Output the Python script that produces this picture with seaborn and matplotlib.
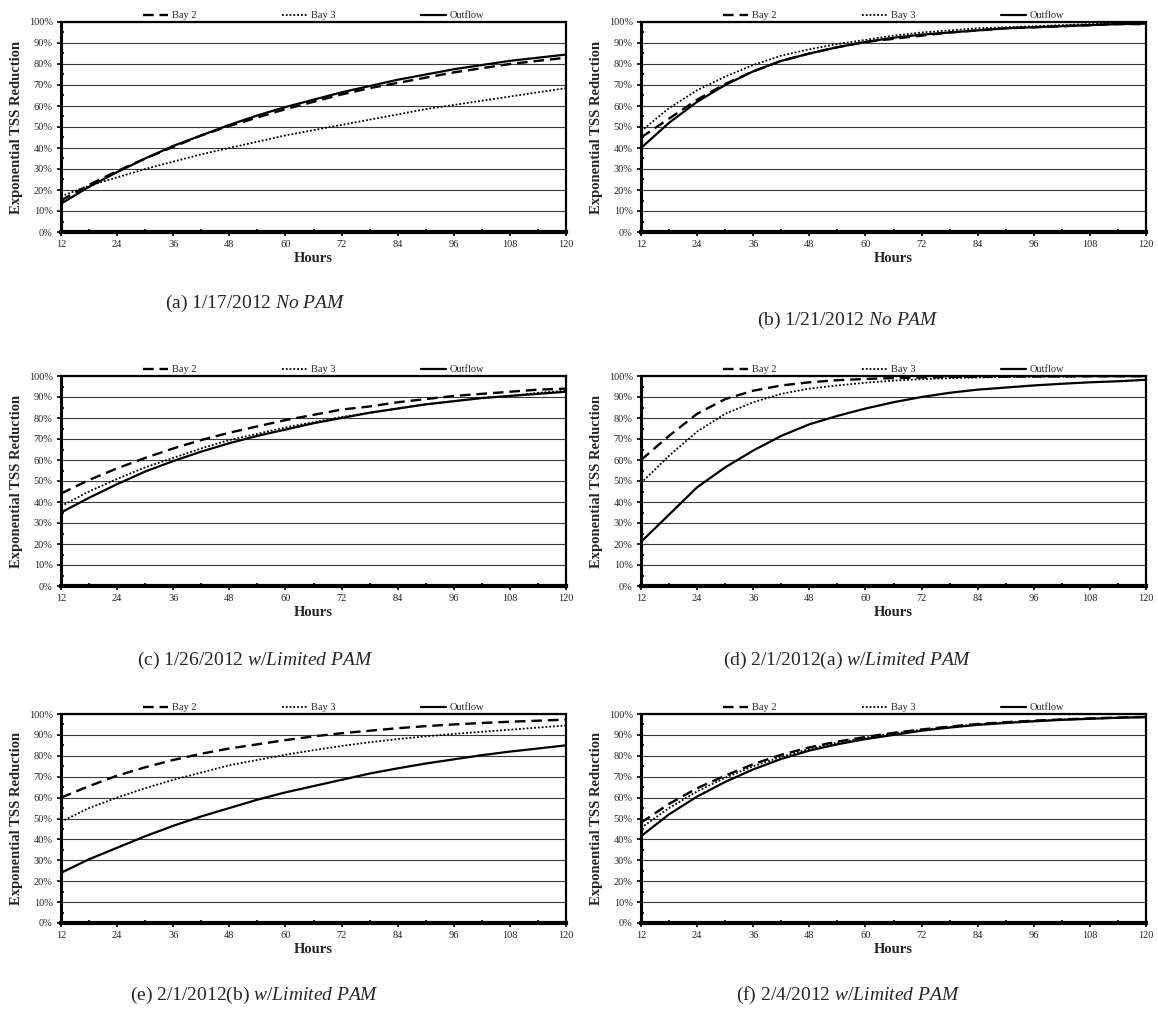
import numpy as np
import pandas as pd
import matplotlib
matplotlib.use("Agg")
import matplotlib.pyplot as plt
from matplotlib.lines import Line2D
from matplotlib.ticker import MultipleLocator, FuncFormatter
import seaborn as sns

sns.set_theme(style="white")
plt.rcParams["font.family"] = ["Liberation Serif", "DejaVu Serif"]
plt.rcParams["mathtext.fontset"] = "custom"
plt.rcParams["mathtext.rm"] = "Liberation Serif"
plt.rcParams["mathtext.it"] = "Liberation Serif:italic"

hours = [12, 18, 24, 30, 36, 42, 48, 54, 60, 66, 72, 78, 84, 90, 96, 102, 108, 114, 120]

# (a) 1/17/2012, no PAM
a_bay2 = [15, 22.5, 29, 35, 40.5, 46, 50.5, 54.5, 58.5, 62, 65.5, 68.5, 71, 73.5, 76, 78, 80, 81.5, 83]
a_bay3 = [17, 22, 26, 30, 33.5, 37, 40, 43, 46, 48.5, 51, 53.5, 56, 58.5, 60.5, 62.5, 64.5, 66.5, 68.5]
a_out = [13.5, 21.5, 28.5, 35, 41, 46, 51, 55.5, 59.5, 63, 66.5, 69.5, 72.5, 75, 77.5, 79.5, 81.5, 83, 84.5]

# (b) 1/21/2012, no PAM
b_bay2 = [45, 54, 63, 70.5, 76.5, 81.5, 85, 88, 90.5, 92, 93.5, 95, 96, 97, 97.5, 98, 98.5, 99, 99]
b_bay3 = [48, 59, 67.5, 74, 79.5, 84, 87, 89.5, 91.5, 93.5, 95, 96, 97, 97.5, 98, 98.5, 99, 99.2, 99.4]
b_out = [40, 52, 62, 70, 76.5, 81.5, 85, 88, 90.5, 92.5, 94, 95, 96, 97, 97.5, 98, 98.5, 99, 99.2]

# (c) 1/26/2012, limited PAM
c_bay2 = [44, 50.5, 56, 61, 65.5, 69.5, 73, 76, 79, 81.5, 84, 85.5, 87.5, 89, 90.5, 91.5, 92.5, 93.5, 94]
c_bay3 = [38, 45, 51, 56.5, 61, 65.5, 69.5, 72.5, 75.5, 78, 80.5, 82.5, 84.5, 86.5, 88, 89.5, 90.5, 92, 93]
c_out = [35, 42, 48.5, 54.5, 59.5, 64, 68, 71.5, 74.5, 77.5, 80, 82.5, 84.5, 86.5, 88, 89.5, 90.5, 91.5, 92.5]

# (d) 2/1/2012(a), limited PAM
d_bay2 = [60, 71.5, 82, 89, 93, 95.5, 97, 98, 98.6, 99, 99.3, 99.5, 99.6, 99.7, 99.8, 99.8, 99.9, 99.9, 99.9]
d_bay3 = [49, 62, 73.5, 82, 87.5, 91.5, 94, 95.5, 96.8, 97.8, 98.5, 99, 99.3, 99.5, 99.6, 99.7, 99.8, 99.8, 99.9]
d_out = [21, 34, 47, 56.5, 64.5, 71.5, 77, 81, 84.5, 87.5, 90, 92, 93.5, 94.5, 95.5, 96.3, 97, 97.5, 98.2]

# (e) 2/1/2012(b), limited PAM
e_bay2 = [60, 65.5, 70.5, 74.5, 78, 81, 83.5, 85.5, 87.5, 89.3, 90.8, 92, 93.2, 94.2, 95, 95.7, 96.3, 96.8, 97.3]
e_bay3 = [48.5, 55, 60, 64.5, 68.5, 72, 75.5, 78, 80.5, 82.7, 84.7, 86.5, 88, 89.3, 90.5, 91.5, 92.5, 93.5, 94.5]
e_out = [24, 30.5, 36, 41.5, 46.5, 51, 55, 59, 62.5, 65.5, 68.5, 71.5, 74, 76.3, 78.3, 80.3, 82, 83.5, 85]

# (f) 2/4/2012, limited PAM
f_bay2 = [48, 57, 64.5, 70.5, 76, 80.5, 84, 86.8, 89, 91, 92.6, 94, 95.2, 96.1, 96.8, 97.4, 97.9, 98.3, 98.6]
f_bay3 = [45.5, 55, 63, 69.5, 75, 79.5, 83.3, 86.3, 88.7, 90.7, 92.4, 93.8, 95, 96, 96.7, 97.3, 97.8, 98.2, 98.6]
f_out = [41.5, 52, 60.5, 67.5, 73.5, 78.5, 82.5, 85.5, 88, 90, 92, 93.5, 94.8, 95.7, 96.5, 97.2, 97.7, 98.2, 98.5]

series_names = ["Bay 2", "Bay 3", "Outflow"]
captions = [
    ("(a) 1/17/2012 ", "No\\ PAM"),
    ("(b) 1/21/2012 ", "No\\ PAM"),
    ("(c) 1/26/2012 ", "w/Limited\\ PAM"),
    ("(d) 2/1/2012(a) ", "w/Limited\\ PAM"),
    ("(e) 2/1/2012(b) ", "w/Limited\\ PAM"),
    ("(f) 2/4/2012 ", "w/Limited\\ PAM"),
]
panels = [
    (a_bay2, a_bay3, a_out),
    (b_bay2, b_bay3, b_out),
    (c_bay2, c_bay3, c_out),
    (d_bay2, d_bay3, d_out),
    (e_bay2, e_bay3, e_out),
    (f_bay2, f_bay3, f_out),
]

line_styles = {
    "Bay 2": dict(dashes=(4.5, 2.5), lw=1.7),
    "Bay 3": dict(dashes=(1.0, 1.1), lw=1.3),
    "Outflow": dict(dashes="", lw=1.6),
}

W, H = 1158, 1011
fig = plt.figure(figsize=(W / 100, H / 100), dpi=100)

col_left = [61, 641]
box_w = 505
rows = [(22, 232), (376, 586), (714, 923)]
cap_y = [(303, 320), (660, 660), (995, 995)]
cap_x = [255, 848]

for i, (vals, cap) in enumerate(zip(panels, captions)):
    r, c = divmod(i, 2)
    top, bot = rows[r]
    ax = fig.add_axes([col_left[c] / W, 1 - bot / H, box_w / W, (bot - top) / H])

    df = pd.DataFrame({
        "Hours": hours * 3,
        "Reduction": list(vals[0]) + list(vals[1]) + list(vals[2]),
        "Series": sum([[s] * len(hours) for s in series_names], []),
    })
    for name in series_names:
        st = line_styles[name]
        sns.lineplot(data=df[df["Series"] == name], x="Hours", y="Reduction",
                     color="black", lw=st["lw"], ax=ax, legend=False,
                     dashes=False, zorder=3)
        if st["dashes"]:
            ax.lines[-1].set_dashes(st["dashes"])

    ax.set_xlim(12, 120)
    ax.set_ylim(0, 100)
    ax.xaxis.set_major_locator(MultipleLocator(12))
    ax.xaxis.set_minor_locator(MultipleLocator(6))
    ax.yaxis.set_major_locator(MultipleLocator(10))
    ax.yaxis.set_minor_locator(MultipleLocator(5))
    ax.yaxis.set_major_formatter(FuncFormatter(lambda v, p: f"{v:.0f}%"))
    ax.grid(axis="y", which="major", color="#3a3a3a", lw=0.8)
    ax.tick_params(axis="both", which="major", labelsize=7.5, length=3,
                   width=1.2, direction="out", color="black", pad=3)
    ax.tick_params(axis="both", which="minor", length=2, width=1.2,
                   direction="in", color="black")
    ax.tick_params(left=True, bottom=True, which="both")

    for side, lw in (("left", 2.2), ("bottom", 3.0), ("top", 1.6), ("right", 1.6)):
        ax.spines[side].set_visible(True)
        ax.spines[side].set_color("black")
        ax.spines[side].set_linewidth(lw)

    ax.set_xlabel("Hours", fontsize=10.5, fontweight="bold", labelpad=2)
    ax.set_ylabel("Exponential TSS Reduction", fontsize=10.5,
                  fontweight="bold", labelpad=4)

    handles = [
        Line2D([], [], color="black", lw=1.7, dashes=(4.5, 2.5)),
        Line2D([], [], color="black", lw=1.3, dashes=(1.0, 1.1)),
        Line2D([], [], color="black", lw=1.6),
    ]
    ax.legend(handles, series_names, loc="lower center",
              bbox_to_anchor=(0.5, 1.0), ncol=3, frameon=False,
              fontsize=7.5, handlelength=2.4, handletextpad=0.4,
              columnspacing=8.2, borderpad=0.1, borderaxespad=0.05)

    roman, italic = cap
    fig.text(cap_x[c] / W, 1 - cap_y[r][c] / H,
             roman + r"$\mathit{" + italic + "}$",
             ha="center", va="center", fontsize=14)

fig.savefig("out.png", dpi=100, facecolor="white")
